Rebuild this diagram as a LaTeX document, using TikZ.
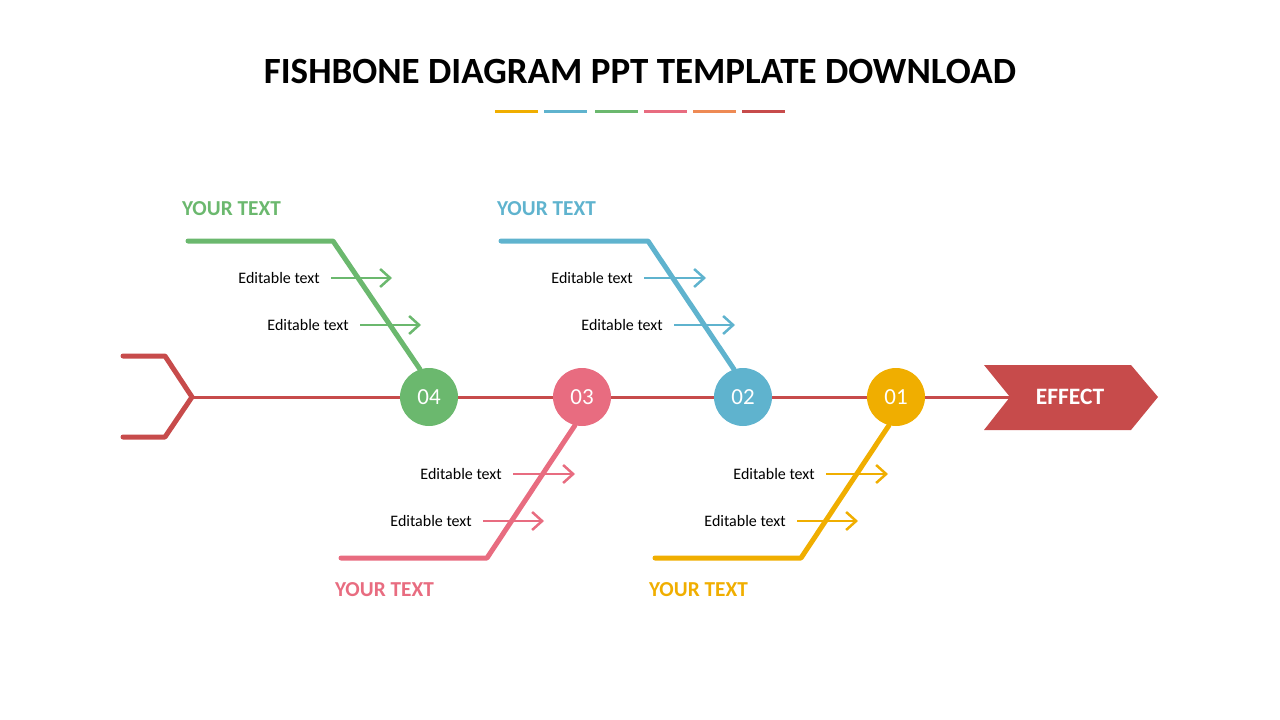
\documentclass[tikz,border=0pt]{standalone}
\usepackage{fontspec}
\setmainfont{Carlito}
\usetikzlibrary{arrows.meta}

\definecolor{cgreen}{HTML}{6BB86E}
\definecolor{cblue}{HTML}{5FB3CE}
\definecolor{cpink}{HTML}{E86C80}
\definecolor{cyellow}{HTML}{F0AE00}
\definecolor{corange}{HTML}{EE8A54}
\definecolor{cred}{HTML}{C74B4B}

\tikzset{
  bone/.style={line width=5pt, line cap=round, line join=round},
  twig/.style={line width=2.5pt, -{Straight Barb[length=10pt, width=18pt]}},
  ball/.style={circle, minimum size=58pt, inner sep=0pt, text=white,
    font=\fontsize{23}{23}\selectfont},
  etext/.style={inner sep=0pt, font=\fontsize{16}{16}\selectfont},
  yourtext/.style={inner sep=0pt, anchor=west, font=\fontsize{21.3}{21.3}\selectfont\bfseries},
  bar/.style={line width=3pt},
}

\begin{document}
\begin{tikzpicture}[x=1pt, y=-1pt]
   \useasboundingbox (0,0) rectangle (1280,720);

   % title
   \node[inner sep=0pt, font=\fontsize{37}{37}\selectfont\bfseries] (title) at (640,71)
     {FISHBONE DIAGRAM PPT TEMPLATE DOWNLOAD};
   \draw[bar, cyellow] (495,111) -- (538,111);
   \draw[bar, cblue]   (544,111) -- (587,111);
   \draw[bar, cgreen]  (595,111) -- (638,111);
   \draw[bar, cpink]   (644,111) -- (687,111);
   \draw[bar, corange] (693,111) -- (736,111);
   \draw[bar, cred]    (742,111) -- (785,111);

   % tail
   \coordinate (t1) at (123,356);
   \coordinate (t2) at (165,356);
   \coordinate (tip) at (192,397);
   \coordinate (t3) at (165,437);
   \coordinate (t4) at (123,437);
   \draw[bone, cred] (t1) -- (t2) -- (tip) -- (t3) -- (t4);

   % head
   \coordinate (notch) at (1010,397);
   \fill[cred] (984,365) -- (1131,365) -- (1158,397) -- (1131,430) -- (984,430) -- (notch) -- cycle;
   \node[inner sep=0pt, text=white, font=\fontsize{23.5}{23.5}\selectfont\bfseries] (effect) at (1070,397) {EFFECT};

   % spine
   \draw[line width=3pt, cred] (tip) -- (notch);

   % circles
   \node[ball, fill=cgreen]  (n4) at (429,397) {04};
   \node[ball, fill=cpink]   (n3) at (582,397) {03};
   \node[ball, fill=cblue]   (n2) at (743,397) {02};
   \node[ball, fill=cyellow] (n1) at (896,397) {01};

   % vertices of the bones
   \coordinate (g1) at (188,241);
   \coordinate (g2) at (333,241);
   \coordinate (b1) at (501,241);
   \coordinate (b2) at (648,241);
   \coordinate (p1) at (341,558);
   \coordinate (p2) at (487,558);
   \coordinate (y1) at (655,558);
   \coordinate (y2) at (801,558);

   % draw bones
   \draw[bone, cgreen]  (g1) -- (g2) -- (n4.108);
   \draw[bone, cblue]   (b1) -- (b2) -- (n2.108);
   \draw[bone, cpink]   (n3.256) -- (p2) -- (p1);
   \draw[bone, cyellow] (n1.256) -- (y2) -- (y1);

   % twigs
   \coordinate (ga1) at (331,278); \coordinate (ga2) at (392,278);
   \coordinate (gb1) at (360,325); \coordinate (gb2) at (421,325);
   \coordinate (ba1) at (644,278); \coordinate (ba2) at (706,278);
   \coordinate (bb1) at (674,325); \coordinate (bb2) at (735,325);
   \coordinate (pa1) at (513,474); \coordinate (pa2) at (575,474);
   \coordinate (pb1) at (483,521); \coordinate (pb2) at (544,521);
   \coordinate (ya1) at (826,474); \coordinate (ya2) at (888,474);
   \coordinate (yb1) at (797,521); \coordinate (yb2) at (858,521);

   \draw[twig, cgreen]  (ga1) -- (ga2);
   \draw[twig, cgreen]  (gb1) -- (gb2);
   \draw[twig, cblue]   (ba1) -- (ba2);
   \draw[twig, cblue]   (bb1) -- (bb2);
   \draw[twig, cpink]   (pa1) -- (pa2);
   \draw[twig, cpink]   (pb1) -- (pb2);
   \draw[twig, cyellow] (ya1) -- (ya2);
   \draw[twig, cyellow] (yb1) -- (yb2);

   % labels
   \node[etext, left=11pt] (ge1) at (ga1) {Editable text};
   \node[etext, left=11pt] (ge2) at (gb1) {Editable text};
   \node[etext, left=11pt] (be1) at (ba1) {Editable text};
   \node[etext, left=11pt] (be2) at (bb1) {Editable text};
   \node[etext, left=11pt] (pe1) at (pa1) {Editable text};
   \node[etext, left=11pt] (pe2) at (pb1) {Editable text};
   \node[etext, left=11pt] (ye1) at (ya1) {Editable text};
   \node[etext, left=11pt] (ye2) at (yb1) {Editable text};

   \node[yourtext, text=cgreen]  (gt) at (182,209) {YOUR TEXT};
   \node[yourtext, text=cblue]   (bt) at (497,209) {YOUR TEXT};
   \node[yourtext, text=cpink]   (pt) at (335,590) {YOUR TEXT};
   \node[yourtext, text=cyellow] (yt) at (649,590) {YOUR TEXT};
\end{tikzpicture}
\end{document}
